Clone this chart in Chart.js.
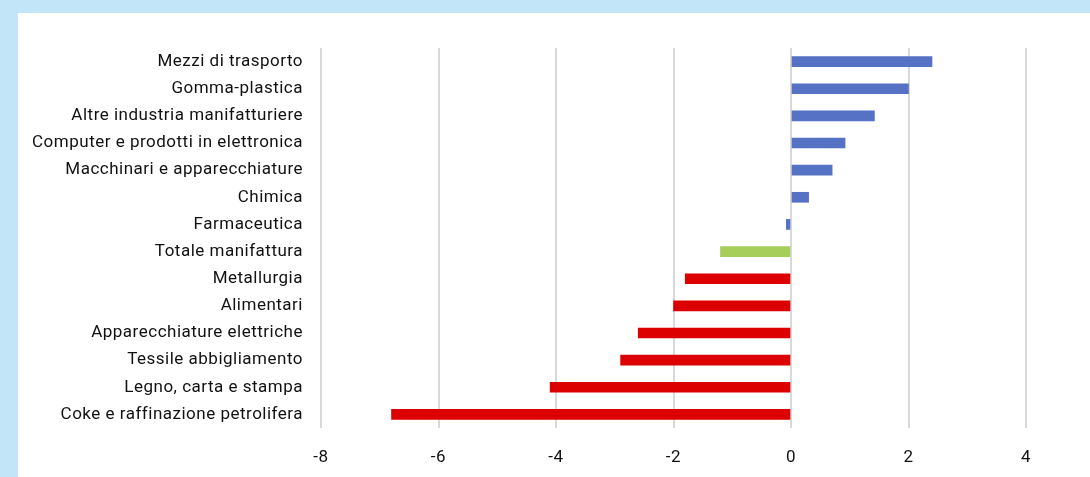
<!DOCTYPE html>
<html>
<head>
<meta charset="utf-8">
<script src="https://cdn.jsdelivr.net/npm/chart.js@4.4.1/dist/chart.umd.min.js"></script>
<style>
  html, body { margin: 0; padding: 0; }
  body { width: 1090px; height: 477px; background: #c2e6f8; position: relative; overflow: hidden; }
  .panel { position: absolute; left: 18px; top: 13px; right: 0; bottom: 0; background: #fff; }
  .wrap { position: absolute; left: 0; top: 0; width: 1090px; height: 477px; }
</style>
</head>
<body>
<div class="panel"></div>
<div class="wrap"><canvas id="sectorChart" width="1090" height="477"></canvas></div>
<script>
// sectors, top to bottom
const sectors = [
  'Mezzi di trasporto',
  'Gomma-plastica',
  'Altre industria manifatturiere',
  'Computer e prodotti in elettronica',
  'Macchinari e apparecchiature',
  'Chimica',
  'Farmaceutica',
  'Totale manifattura',
  'Metallurgia',
  'Alimentari',
  'Apparecchiature elettriche',
  'Tessile abbigliamento',
  'Legno, carta e stampa',
  'Coke e raffinazione petrolifera'
];
const changes = [2.4, 2.0, 1.42, 0.92, 0.7, 0.3, -0.08, -1.2, -1.8, -2.0, -2.6, -2.9, -4.1, -6.8];
const xTicks = [-8, -6, -4, -2, 0, 2, 4];

const BLUE = '#5572c4', RED = '#dc0000', GREEN = '#a6ce5a';
const barColors = [BLUE, BLUE, BLUE, BLUE, BLUE, BLUE, BLUE, GREEN, RED, RED, RED, RED, RED, RED];

const font = { family: 'Roboto, "Liberation Sans", sans-serif', size: 17 };

// the source labels are a bit letter-spaced
const spacing = {
  id: 'spacing',
  beforeDraw: chart => { chart.ctx.letterSpacing = '0.5px'; }
};

document.addEventListener("DOMContentLoaded", function () {
  const ctx = document.getElementById('sectorChart').getContext('2d');
  new Chart(ctx, {
    type: 'bar',
    data: {
      labels: sectors,
      datasets: [{
        data: changes,
        backgroundColor: barColors,
        barThickness: 10,
        borderWidth: 0
      }]
    },
    options: {
      indexAxis: 'y',
      responsive: false,
      animation: false,
      layout: { padding: { top: 48, right: 64, left: 0, bottom: 0 } },
      plugins: { legend: { display: false }, tooltip: { enabled: false } },
      scales: {
        x: {
          min: -8,
          max: 4,
          afterBuildTicks: axis => { axis.ticks = xTicks.map(v => ({ value: v })); },
          afterFit: axis => { axis.height = 49; },
          grid: { color: '#d9d9d9', lineWidth: 2, drawTicks: false },
          border: { display: false },
          ticks: { color: '#111', font: font, padding: 20 }
        },
        y: {
          afterFit: axis => { axis.width = 321; },
          grid: { display: false },
          border: { display: false },
          ticks: { color: '#111', font: font, padding: 10 }
        }
      }
    },
    plugins: [spacing]
  });
});
</script>
</body>
</html>
